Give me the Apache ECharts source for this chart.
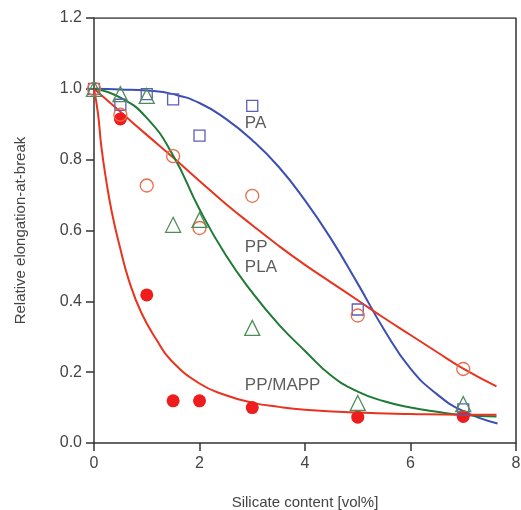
<!DOCTYPE html>
<html>
<head>
<meta charset="utf-8">
<script src="https://cdn.jsdelivr.net/npm/echarts@6/dist/echarts.min.js"></script>
<style>html,body{margin:0;padding:0;background:#fff;}#c{width:521px;height:510px;}</style>
</head>
<body>
<div id="c"></div>
<script>
// measured points
const xPts = [0, 0.5, 1, 1.5, 2, 3, 5, 7];
const paPts = [1.0, 0.955, 0.985, 0.97, 0.868, 0.952, 0.377, 0.095];
const ppPlaPts = [1.0, 0.927, 0.727, 0.81, 0.607, 0.698, 0.36, 0.209];
const triPts = [1.0, 0.985, 0.98, 0.616, 0.63, 0.325, 0.113, 0.11];
const mappX = [0.5, 1, 1.5, 2, 3, 5, 7];
const mappPts = [0.915, 0.418, 0.119, 0.119, 0.1, 0.073, 0.075];

// fitted curves
const paCurveX = [0, 0.5, 1, 1.5, 2, 2.5, 3, 3.5, 4, 4.5, 5, 5.5, 6, 6.5, 7, 7.65];
const paCurveY = [1.0, 0.998, 0.995, 0.985, 0.96, 0.915, 0.855, 0.78, 0.685, 0.575, 0.45, 0.32, 0.21, 0.138, 0.09, 0.055];
const redCurveX = [0, 0.5, 1, 1.5, 2, 2.5, 3, 3.5, 4, 4.5, 5, 5.5, 6, 6.5, 7, 7.63];
const redCurveY = [1.0, 0.935, 0.87, 0.806, 0.74, 0.675, 0.615, 0.557, 0.503, 0.453, 0.403, 0.353, 0.305, 0.257, 0.21, 0.16];
const greenCurveX = [0, 0.5, 1, 1.5, 2, 2.5, 3, 3.5, 4, 4.5, 5, 5.5, 6, 6.5, 7, 7.63];
const greenCurveY = [1.0, 0.975, 0.918, 0.812, 0.66, 0.53, 0.425, 0.335, 0.26, 0.19, 0.145, 0.118, 0.1, 0.088, 0.079, 0.075];
const mappCurveX = [0, 0.076, 0.14, 0.23, 0.34, 0.49, 0.66, 0.9, 1.2, 1.45, 2, 2.5, 3, 3.5, 4, 5, 6, 7, 7.63];
const mappCurveY = [1.0, 0.93, 0.836, 0.743, 0.65, 0.554, 0.46, 0.367, 0.288, 0.235, 0.168, 0.135, 0.114, 0.102, 0.094, 0.086, 0.082, 0.08, 0.08];

const labelTexts = ['PA', 'PP', 'PLA', 'PP/MAPP'];
const labelX = [2.86, 2.86, 2.86, 2.86];
const labelY = [0.902, 0.552, 0.496, 0.164];

const xTicks = ['0', '2', '4', '6', '8'];
const yTicks = ['0.0', '0.2', '0.4', '0.6', '0.8', '1.0', '1.2'];

const zip = (a, b) => a.map((v, i) => [v, b[i]]);

const chart = echarts.init(document.getElementById('c'));
const axisCol = '#333';
const lineSeries = (xs, ys, color) => ({
  type: 'line', data: zip(xs, ys), smooth: 0.5, showSymbol: false, symbol: 'none',
  lineStyle: { color: color, width: 2 }, z: 2, silent: true
});
const scat = (xs, ys, symbol, size, fill, stroke, bw) => ({
  type: 'scatter', data: zip(xs, ys), symbol: symbol, symbolSize: size,
  itemStyle: { color: fill, borderColor: stroke, borderWidth: bw, opacity: 1 }, z: 3
});

chart.setOption({
  animation: false,
  grid: { left: 94, right: 5, top: 18, bottom: 67, containLabel: false, outerBoundsMode: 'none' },
  xAxis: {
    type: 'value', min: 0, max: 8, interval: 2,
    name: 'Silicate content [vol%]', nameLocation: 'middle', nameGap: 52,
    nameTextStyle: { fontFamily: 'Liberation Sans, Arial', fontSize: 15, color: '#444' },
    axisLine: { show: true, onZero: false, lineStyle: { color: axisCol, width: 1.5 } },
    axisTick: { show: true, inside: false, length: 8, lineStyle: { color: axisCol, width: 1.5 } },
    axisLabel: { margin: 13, fontFamily: 'Liberation Sans, Arial', fontSize: 16, color: '#444',
      formatter: v => xTicks[Math.round(v / 2)] },
    splitLine: { show: false }
  },
  yAxis: {
    type: 'value', min: 0, max: 1.2, interval: 0.2,
    name: 'Relative elongation-at-break', nameLocation: 'middle', nameGap: 66,
    nameTextStyle: { fontFamily: 'Liberation Sans, Arial', fontSize: 15, color: '#444' },
    axisLine: { show: true, onZero: false, lineStyle: { color: axisCol, width: 1.5 } },
    axisTick: { show: true, inside: false, length: 8, lineStyle: { color: axisCol, width: 1.5 } },
    axisLabel: { margin: 12, fontFamily: 'Liberation Sans, Arial', fontSize: 16, color: '#444',
      formatter: v => yTicks[Math.round(v / 0.2)] },
    splitLine: { show: false }
  },
  series: [
    lineSeries(paCurveX, paCurveY, '#3d4fb0'),
    lineSeries(redCurveX, redCurveY, '#e8341f'),
    lineSeries(greenCurveX, greenCurveY, '#1f7a35'),
    lineSeries(mappCurveX, mappCurveY, '#e8341f'),
    scat(mappX, mappPts, 'circle', 13, '#ee1c1c', '#ee1c1c', 0),
    scat(xPts, paPts, 'rect', 11, 'rgba(0,0,0,0)', '#5a5fb8', 1.3),
    scat(xPts, ppPlaPts, 'circle', 13, 'rgba(0,0,0,0)', '#eb6b48', 1.3),
    scat(xPts, triPts, 'triangle', 15, 'rgba(0,0,0,0)', '#4e8d57', 1.3),
    {
      type: 'scatter', data: labelX.map((x, i) => [x, labelY[i]]), symbolSize: 0, z: 4, silent: true,
      label: { show: true, position: 'inside', align: 'left', verticalAlign: 'middle',
        formatter: p => labelTexts[p.dataIndex],
        fontFamily: 'Liberation Sans, Arial', fontSize: 17, color: '#333' }
    },
    // frame top/right
    {
      type: 'line', data: [[0, 1.2], [8, 1.2], [8, 0]], symbol: 'none', silent: true, z: 1,
      lineStyle: { color: axisCol, width: 1.5 }
    }
  ]
});
</script>
</body>
</html>
